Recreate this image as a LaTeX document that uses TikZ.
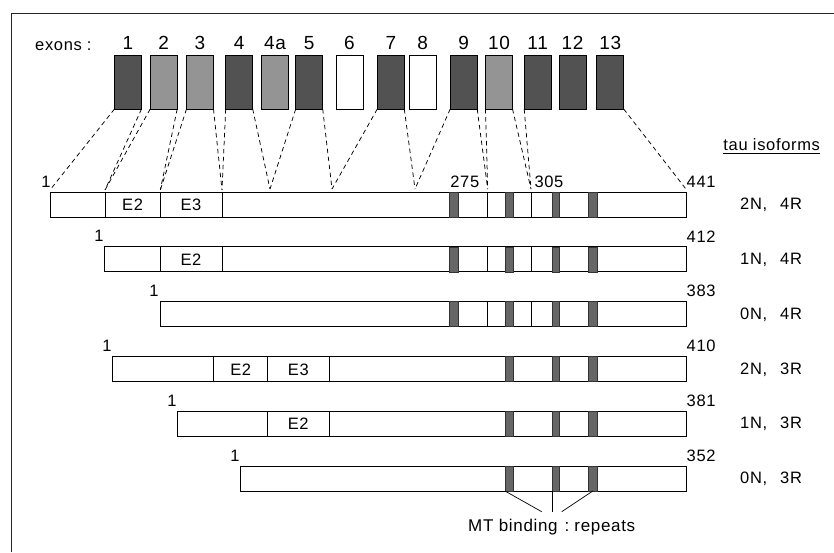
\documentclass[tikz,border=0pt]{standalone}
\usepackage{fontspec}
\setmainfont[LetterSpace=4]{Liberation Sans}
\begin{document}
\begin{tikzpicture}[x=1pt,y=-1pt,
  exon/.style={draw, line width=0.8pt, inner sep=0pt, outer sep=0pt, minimum width=27pt, minimum height=54pt},
  darkexon/.style={exon, fill=black!68},
  lightexon/.style={exon, fill=black!42},
  blankexon/.style={exon, fill=white},
  exnum/.style={anchor=base, inner sep=0pt, font=\fontsize{19}{21}\selectfont},
  lbl/.style={inner sep=0pt, font=\fontsize{16.5}{18}\selectfont},
  bar/.style={draw, line width=0.8pt, inner sep=0pt, outer sep=0pt, minimum height=25pt, anchor=north west, fill=white},
  rep/.style={draw=black!80, line width=0.5pt, fill=black!60, inner sep=0pt, outer sep=0pt, minimum height=25pt, anchor=north west},
  divider/.style={line width=0.7pt},
  conn/.style={dashed, dash pattern=on 4.5pt off 3.5pt, line width=0.75pt},
  mtline/.style={line width=0.7pt}
]
\useasboundingbox (0,0) rectangle (834,552);
% frame
\draw[line width=0.9pt, black!85] (11,552) -- (11,13) -- (834,13);

% exon label
\node[inner sep=0pt, anchor=base west, font=\fontsize{16.5}{18}\selectfont] (exlab) at (35,50) {exons\hspace{5pt}:};

% exon boxes
\node[darkexon]  (e1)  at (128,82) {};
\node[lightexon] (e2)  at (163.7,82) {};
\node[lightexon] (e3)  at (200,82) {};
\node[darkexon]  (e4)  at (239.2,82) {};
\node[lightexon] (e4a) at (275,82) {};
\node[darkexon]  (e5)  at (309.2,82) {};
\node[blankexon] (e6)  at (349.5,82) {};
\node[darkexon]  (e7)  at (390.8,82) {};
\node[blankexon] (e8)  at (422.7,82) {};
\node[darkexon]  (e9)  at (463.7,82) {};
\node[lightexon] (e10) at (499,82) {};
\node[darkexon]  (e11) at (537.7,82) {};
\node[darkexon]  (e12) at (572.5,82) {};
\node[darkexon]  (e13) at (610.2,82) {};

\foreach \n/\t in {e1/1,e2/2,e3/3,e4/4,e4a/4a,e5/5,e6/6,e7/7,e8/8,e9/9,e10/10,e11/11,e12/12,e13/13}
  \node[exnum] (n\n) at (\n.center |- 0,49.5) {\t};

% bars
\node[bar, minimum width=636.7pt] (b1) at (50,192) {};
\node[bar, minimum width=582.4pt] (b2) at (104.3,246.8) {};
\node[bar, minimum width=526.7pt] (b3) at (160,301.6) {};
\node[bar, minimum width=574.4pt] (b4) at (112.3,356.4) {};
\node[bar, minimum width=509pt]   (b5) at (177.7,411.2) {};
\node[bar, minimum width=446.7pt] (b6) at (240,466) {};

% repeats
\foreach \b/\t in {1/192,2/246.8,3/301.6}{
  \node[rep, minimum width=9pt] (r\b a) at (449.4,\t) {};
}
\foreach \b/\t in {1/192,2/246.8,3/301.6,4/356.4,5/411.2,6/466}{
  \node[rep, minimum width=8.5pt] (r\b b) at (505,\t) {};
  \node[rep, minimum width=7.3pt] (r\b c) at (552.3,\t) {};
  \node[rep, minimum width=8.3pt] (r\b d) at (588.7,\t) {};
}

% dividers
\foreach \x in {105,160.3,222,487.7,531} \draw[divider] (\x,192) -- (\x,217);
\foreach \x in {160,222,487.7,531} \draw[divider] (\x,246.8) -- (\x,271.8);
\foreach \x in {487.7,531} \draw[divider] (\x,301.6) -- (\x,326.6);
\foreach \x in {213.7,267.7,329} \draw[divider] (\x,356.4) -- (\x,381.4);
\foreach \x in {267.3,329} \draw[divider] (\x,411.2) -- (\x,436.2);

% exon texts in bars
\node[lbl] (t1a) at (132.6,205) {E2};
\node[lbl] (t1b) at (191,205) {E3};
\node[lbl] (t2a) at (191,259.8) {E2};
\node[lbl] (t4a) at (240.7,369.4) {E2};
\node[lbl] (t4b) at (298.3,369.4) {E3};
\node[lbl] (t5a) at (298.2,424.2) {E2};

% start labels
\node[lbl] (s1) at (46,181.5) {1};
\node[lbl] (s2) at (99,236.3) {1};
\node[lbl] (s3) at (154,291.1) {1};
\node[lbl] (s4) at (107,345.9) {1};
\node[lbl] (s5) at (172,400.7) {1};
\node[lbl] (s6) at (235,455.5) {1};

% end labels
\node[lbl, anchor=west] (m1) at (686.5,181.5) {441};
\node[lbl, anchor=west] (m2) at (686.5,236.3) {412};
\node[lbl, anchor=west] (m3) at (686.5,291.1) {383};
\node[lbl, anchor=west] (m4) at (686.5,345.9) {410};
\node[lbl, anchor=west] (m5) at (686.5,400.7) {381};
\node[lbl, anchor=west] (m6) at (686.5,455.5) {352};

\node[lbl] (l275) at (464.8,181.5) {275};
\node[lbl] (l305) at (549,181.5) {305};

% isoform labels
\node[lbl, anchor=west] (i1) at (740,205) {2N,\hspace{13pt}4R};
\node[lbl, anchor=west] (i2) at (740,259.8) {1N,\hspace{13pt}4R};
\node[lbl, anchor=west] (i3) at (740,314.6) {0N,\hspace{13pt}4R};
\node[lbl, anchor=west] (i4) at (740,369.4) {2N,\hspace{13pt}3R};
\node[lbl, anchor=west] (i5) at (740,424.2) {1N,\hspace{13pt}3R};
\node[lbl, anchor=west] (i6) at (740,479) {0N,\hspace{13pt}3R};

\node[lbl] (tau) at (771.7,145) {tau isoforms};
\draw[line width=0.7pt] ([yshift=-2.5pt]tau.south west) -- ([yshift=-2.5pt]tau.south east);

% dashed connectors
\coordinate (p1)   at (50,190);
\coordinate (pE2)  at (105,190);
\coordinate (pE3)  at (160.3,190);
\coordinate (pE4)  at (222,190);
\coordinate (p45)  at (270,189);
\coordinate (p57)  at (332,189);
\coordinate (p79)  at (415,189);
\coordinate (p275) at (487.7,189);
\coordinate (p305) at (531,189);
\coordinate (pend) at (686.7,190);
\draw[conn] (e1.south west) -- (p1);
\draw[conn] (e1.south east) -- (pE2);
\draw[conn] (e2.south west) -- (pE2);
\draw[conn] (e2.south east) -- (pE3);
\draw[conn] (e3.south west) -- (pE3);
\draw[conn] (e3.south east) -- (pE4);
\draw[conn] (e4.south west) -- (pE4);
\draw[conn] (e4.south east) -- (p45);
\draw[conn] (e5.south west) -- (p45);
\draw[conn] (e5.south east) -- (p57);
\draw[conn] (e7.south west) -- (p57);
\draw[conn] (e7.south east) -- (p79);
\draw[conn] (e9.south west) -- (p79);
\draw[conn] (e9.south east) -- (p275);
\draw[conn] (e10.south west) -- (p275);
\draw[conn] (e10.south east) -- (p305);
\draw[conn] (e11.south west) -- (p305);
\draw[conn] (e13.south east) -- (pend);

% MT binding label
\node[lbl, anchor=base, font=\fontsize{17}{19}\selectfont] (mt) at (551.7,531.7) {MT binding\hspace{7pt}:\hspace{5pt}repeats};
\coordinate (q1) at (541.7,511.7);
\coordinate (q2) at (552.3,511.7);
\coordinate (q3) at (561.7,511.7);
\draw[mtline] (r6b.south west) -- (q1);
\draw[mtline] (r6c.south west) -- (q2);
\draw[mtline] (r6d.south) -- (q3);
\end{tikzpicture}
\end{document}
